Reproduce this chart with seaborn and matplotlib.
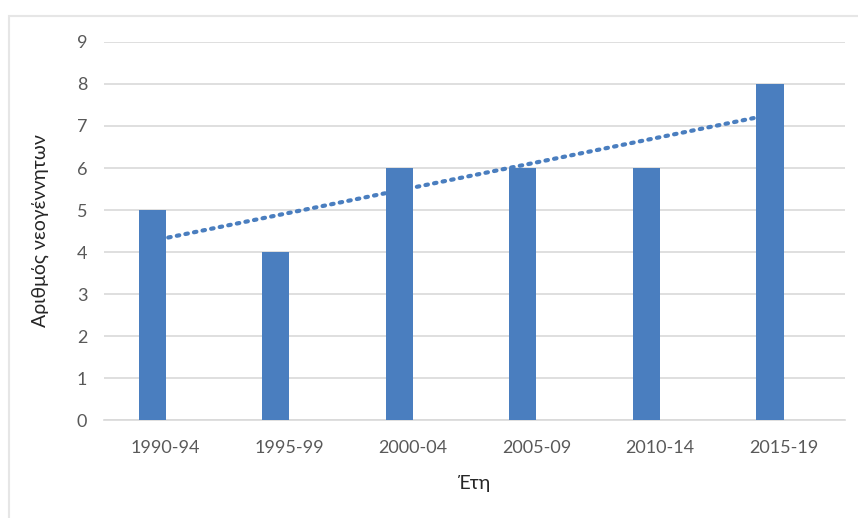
import numpy as np
import pandas as pd
import matplotlib
matplotlib.use("Agg")
import matplotlib.pyplot as plt
import seaborn as sns

# Data
periods = ["1990-94", "1995-99", "2000-04", "2005-09", "2010-14", "2015-19"]
births = [5, 4, 6, 6, 6, 8]
empty_series = [0, 0, 0, 0, 0, 0]  # second (empty) series that pushes bars left

sns.set_style("white")
plt.rcParams["font.family"] = ["Lato", "DejaVu Sans"]

df = pd.DataFrame({
    "period": periods * 2,
    "value": births + empty_series,
    "series": ["births"] * len(periods) + ["empty"] * len(periods),
})

bar_color = "#4a7ebf"
fig = plt.figure(figsize=(8.58, 5.18), dpi=100)
ax = fig.add_axes([0.1212, 0.189, 0.864, 0.73])

sns.barplot(data=df, x="period", y="value", hue="series", order=periods,
            palette=[bar_color, bar_color], width=0.44, linewidth=0,
            saturation=1, legend=False, ax=ax, zorder=3)

# Linear trendline (dotted, behind the bars)
xpos = np.arange(len(periods))
slope, intercept = np.polyfit(xpos, births, 1)
xs = np.array([xpos[0] + 0.02, xpos[-1] - 0.04])
ax.plot(xs, slope * xs + intercept, linestyle=(0, (0.6, 1.5)),
        dash_capstyle="round", color="#4a7ebf", linewidth=3, zorder=2)

ax.set_xlim(-0.5, len(periods) - 0.5)
ax.set_ylim(0, 9)
ax.set_yticks(range(0, 10))
ax.grid(axis="y", color="#d9d9d9", linewidth=1.2, zorder=0)
ax.set_axisbelow(True)

for side in ["top", "right", "left"]:
    ax.spines[side].set_visible(False)
ax.spines["bottom"].set_color("#d9d9d9")
ax.spines["bottom"].set_linewidth(1.2)

ax.tick_params(axis="both", length=0, labelsize=13, labelcolor="#595959")
ax.tick_params(axis="x", pad=14)
ax.tick_params(axis="y", pad=12)

ax.set_xlabel("Έτη", fontsize=14, color="#262626", labelpad=14)
ax.set_ylabel("Αριθμός νεογέννητων", fontsize=14, color="#262626", labelpad=20)

# faint outer chart frame
frame = plt.Rectangle((0.01, -0.1), 1.2, 1.07, transform=fig.transFigure,
                      fill=False, edgecolor="#e6e6e6", linewidth=1.5)
fig.patches.append(frame)

fig.savefig("out.png", dpi=100)
